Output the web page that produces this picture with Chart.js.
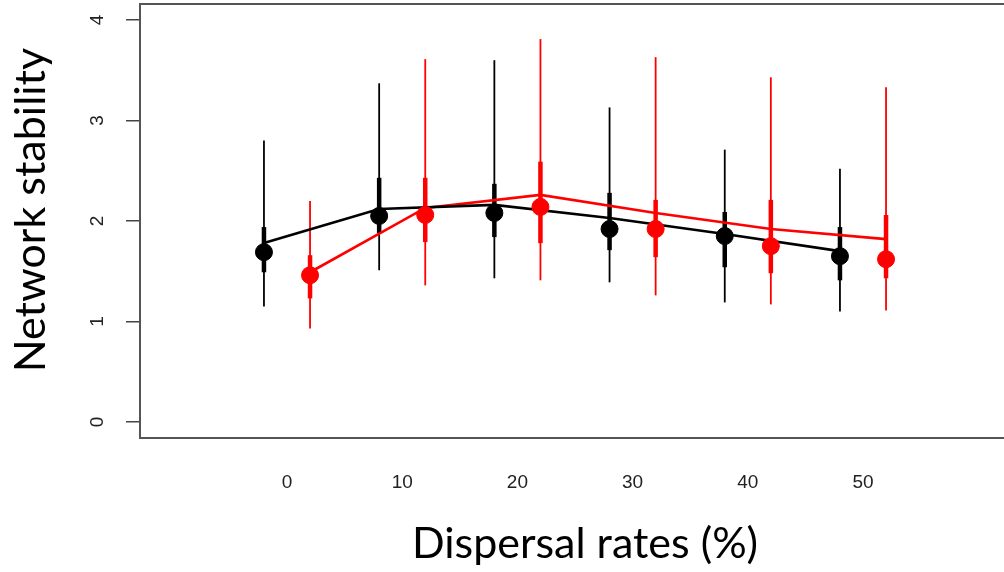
<!DOCTYPE html>
<html>
<head>
<meta charset="utf-8">
<script src="https://cdn.jsdelivr.net/npm/chart.js@4/dist/chart.umd.min.js"></script>
<style>
  html, body { margin: 0; padding: 0; background: #fff; }
  canvas { display: block; }
</style>
</head>
<body>
<canvas id="stabilityChart" width="1004" height="572"></canvas>
<script>
// Dispersal rates (%) and tick labels
const dispersal = [0, 10, 20, 30, 40, 50];
const xTicks = [0, 10, 20, 30, 40, 50];
const yTicks = [0, 1, 2, 3, 4];

// Black series: median point, whiskers, inner bar, fitted line
const blackMed = [1.69, 2.05, 2.08, 1.92, 1.85, 1.65];
const blackLo  = [1.15, 1.51, 1.43, 1.39, 1.19, 1.10];
const blackHi  = [2.80, 3.37, 3.60, 3.13, 2.71, 2.52];
const blackQ1  = [1.49, 1.88, 1.84, 1.71, 1.54, 1.41];
const blackQ3  = [1.94, 2.43, 2.37, 2.28, 2.09, 1.94];
const blackFit = [1.78, 2.12, 2.16, 2.03, 1.87, 1.70];

// Red series
const redMed = [1.46, 2.06, 2.14, 1.92, 1.75, 1.62];
const redLo  = [0.93, 1.36, 1.41, 1.26, 1.17, 1.11];
const redHi  = [2.20, 3.61, 3.81, 3.63, 3.43, 3.33];
const redQ1  = [1.23, 1.79, 1.78, 1.64, 1.48, 1.43];
const redQ3  = [1.66, 2.43, 2.59, 2.21, 2.21, 2.06];
const redFit = [1.49, 2.13, 2.26, 2.08, 1.92, 1.82];

// the two groups are dodged a little either side of each rate
const DODGE = 2;
const BLACK = '#000000';
const RED = '#ff0000';

function pts(vals, shift) {
    return dispersal.map((d, i) => ({ x: d + shift, y: vals[i] }));
}

const groups = [
    { color: BLACK, shift: -DODGE, lo: blackLo, hi: blackHi, q1: blackQ1, q3: blackQ3 },
    { color: RED, shift: DODGE, lo: redLo, hi: redHi, q1: redQ1, q3: redQ3 }
];

// whiskers and inner bars, drawn under the lines and points
const errorBars = {
    id: 'errorBars',
    beforeDatasetsDraw(chart) {
        const { ctx, scales: { x, y } } = chart;
        ctx.save();
        ctx.lineCap = 'butt';
        groups.forEach(g => {
            dispersal.forEach((d, i) => {
                const px = x.getPixelForValue(d + g.shift);
                ctx.strokeStyle = g.color;
                ctx.lineWidth = 1.8;
                ctx.beginPath();
                ctx.moveTo(px, y.getPixelForValue(g.lo[i]));
                ctx.lineTo(px, y.getPixelForValue(g.hi[i]));
                ctx.stroke();
                ctx.lineWidth = 4.5;
                ctx.beginPath();
                ctx.moveTo(px, y.getPixelForValue(g.q1[i]));
                ctx.lineTo(px, y.getPixelForValue(g.q3[i]));
                ctx.stroke();
            });
        });
        ctx.restore();
    }
};

// R-style frame bits: top border, rotated y labels, axis titles
const frame = {
    id: 'frame',
    afterDraw(chart) {
        const { ctx, chartArea, scales: { y } } = chart;
        ctx.save();
        ctx.strokeStyle = '#555';
        ctx.lineWidth = 2;
        ctx.beginPath();
        ctx.moveTo(chartArea.left, chartArea.top);
        ctx.lineTo(chartArea.right, chartArea.top);
        ctx.stroke();

        ctx.fillStyle = '#222';
        ctx.font = '19px "Liberation Sans", Arial, sans-serif';
        ctx.textAlign = 'center';
        ctx.textBaseline = 'middle';
        yTicks.forEach(v => {
            ctx.save();
            ctx.translate(98, y.getPixelForValue(v));
            ctx.rotate(-Math.PI / 2);
            ctx.fillText(String(v), 0, 0);
            ctx.restore();
        });

        ctx.fillStyle = '#000';
        ctx.font = '43px Lato, "Open Sans", sans-serif';
        ctx.fillText('Dispersal rates (%)', 585, 544);
        ctx.save();
        ctx.translate(31, 210);
        ctx.rotate(-Math.PI / 2);
        ctx.fillText('Network stability', 0, 0);
        ctx.restore();
        ctx.restore();
    }
};

const ctx = document.getElementById('stabilityChart').getContext('2d');
new Chart(ctx, {
    type: 'scatter',
    data: {
        datasets: [
            {
                label: 'black points',
                data: pts(blackMed, -DODGE),
                backgroundColor: BLACK,
                borderColor: BLACK,
                pointRadius: 8.5,
                showLine: false,
                order: 0
            },
            {
                label: 'red points',
                data: pts(redMed, DODGE),
                backgroundColor: RED,
                borderColor: RED,
                pointRadius: 8.5,
                showLine: false,
                order: 0
            },
            {
                label: 'black fit',
                data: pts(blackFit, -DODGE),
                borderColor: BLACK,
                borderWidth: 2.6,
                pointRadius: 0,
                showLine: true,
                order: 1
            },
            {
                label: 'red fit',
                data: pts(redFit, DODGE),
                borderColor: RED,
                borderWidth: 2.6,
                pointRadius: 0,
                showLine: true,
                order: 1
            }
        ]
    },
    options: {
        responsive: false,
        animation: false,
        layout: { autoPadding: false, padding: { top: 4, right: 0, bottom: 0, left: 0 } },
        plugins: {
            legend: { display: false },
            tooltip: { enabled: false }
        },
        scales: {
            x: {
                type: 'linear',
                min: -12.76,
                max: 62.24,
                afterBuildTicks: s => { s.ticks = xTicks.map(v => ({ value: v })); },
                afterFit: s => { s.height = 134; s.paddingLeft = 0; s.paddingRight = 0; },
                grid: { display: false, drawTicks: false },
                border: { display: true, color: '#555', width: 2 },
                ticks: {
                    color: '#222',
                    padding: 33,
                    maxRotation: 0,
                    font: { family: '"Liberation Sans", Arial, sans-serif', size: 19 }
                }
            },
            y: {
                type: 'linear',
                min: -0.159,
                max: 4.159,
                afterBuildTicks: s => { s.ticks = yTicks.map(v => ({ value: v })); },
                afterFit: s => { s.width = 140; s.paddingTop = 0; s.paddingBottom = 0; },
                grid: {
                    drawOnChartArea: false,
                    drawTicks: true,
                    tickLength: 14,
                    color: '#444',
                    lineWidth: 1.5
                },
                border: { display: true, color: '#555', width: 2 },
                ticks: { display: false }
            }
        }
    },
    plugins: [errorBars, frame]
});
</script>
</body>
</html>
